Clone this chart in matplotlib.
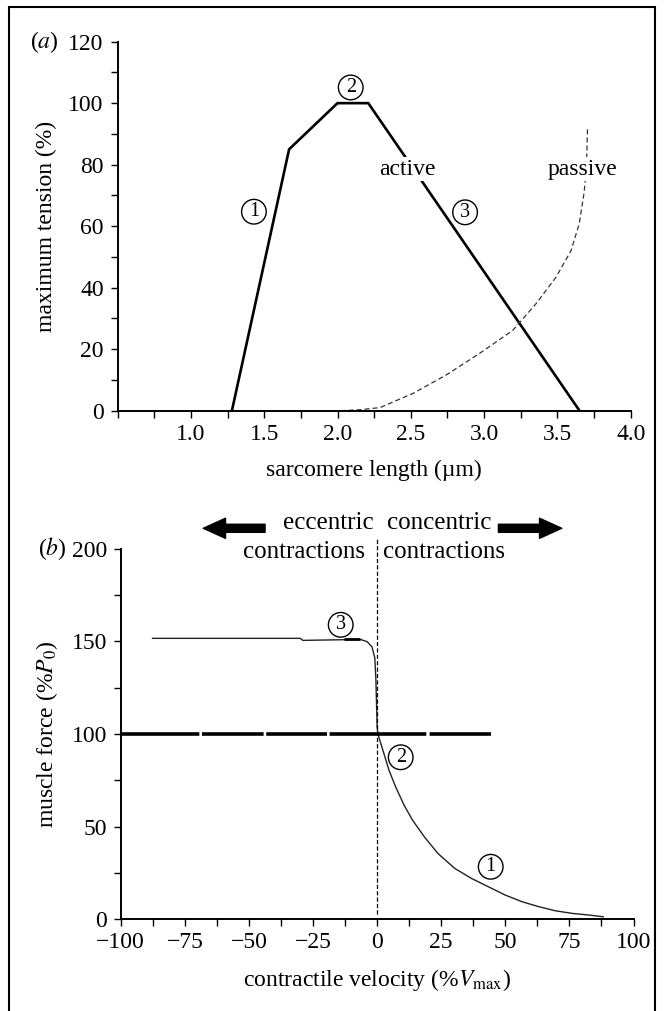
import matplotlib
matplotlib.use("Agg")
import matplotlib.pyplot as plt
from matplotlib.ticker import MultipleLocator
from matplotlib.patches import Rectangle

plt.rcParams["font.family"] = ["Liberation Serif", "DejaVu Serif"]
plt.rcParams["mathtext.fontset"] = "stix"
plt.rcParams["font.size"] = 17
plt.rcParams["lines.scale_dashes"] = False

# ---- data: (a) length-tension ----
active_x = [1.28, 1.67, 2.0, 2.21, 3.65]
active_y = [0, 85, 100, 100, 0]
passive_x = [2.02, 2.15, 2.29, 2.514, 2.741, 2.968, 3.195, 3.354, 3.49,
             3.592, 3.648, 3.683, 3.698, 3.705]
passive_y = [0, 0.3, 1, 5.6, 11.6, 18.6, 26.1, 34.8, 43.4, 52, 60.7, 71.4, 80, 92]
labels_a = ["1", "2", "3"]
labels_a_x = [1.43, 2.09, 2.87]
labels_a_y = [64.7, 105.1, 64.5]

# ---- data: (b) force-velocity ----
fv_x = [-87.6, -30, -29, -6.5, -3.9, -2.0, -0.9, -0.5, -0.2, 0, 0.3, 2.6,
        4.6, 7.2, 10.5, 13.8, 18.4, 23.7, 30.3, 36.8, 43.4, 50, 56.6, 63.2,
        69.7, 76.3, 82.9, 88.2]
fv_y = [151.6, 151.6, 150.5, 151.0, 149.8, 147, 141, 130, 115, 104, 100, 89.6,
        80.5, 71.5, 61.6, 53.5, 44.5, 35.5, 27.4, 22, 17.5, 13, 9.4, 6.7,
        4.5, 3.1, 2.2, 1.3]
plateau_x = [-13, -6.5]
plateau_y = [151.3, 151.3]
iso_x = [-100, 44.6]
iso_y = [100, 100]
zero_x = [0, 0]
zero_y = [3, 206]
labels_b = ["3", "2", "1"]
labels_b_x = [-14.2, 9.2, 44.3]
labels_b_y = [158.9, 87.4, 28.3]


def style_axes(ax):
    for s in ["top", "right"]:
        ax.spines[s].set_visible(False)
    for s in ["left", "bottom"]:
        ax.spines[s].set_linewidth(1.4)
    ax.tick_params(which="both", direction="out", length=5, width=1.0)
    ax.tick_params(axis="x", pad=4.5)
    ax.tick_params(axis="y", pad=5)


def circled(ax, x, y, s):
    ax.text(x, y, s, ha="center", va="center", fontsize=14.5,
            bbox=dict(boxstyle="circle,pad=0.14", fc="white", ec="black", lw=1.0),
            zorder=5)


fig = plt.figure(figsize=(6.64, 10.11), dpi=100)

# ---- panel (a) ----
ax1 = fig.add_axes([0.177, 0.5938, 0.773, 0.365])
ax1.plot(active_x, active_y, color="black", lw=1.9, solid_joinstyle="miter")
ax1.plot(passive_x, passive_y, color="#333333", lw=0.9, dashes=(3.6, 2.2))
ax1.set_xlim(0.5, 4.0)
ax1.set_ylim(0, 120)
ax1.xaxis.set_minor_locator(MultipleLocator(0.25))
ax1.yaxis.set_major_locator(MultipleLocator(20))
ax1.yaxis.set_minor_locator(MultipleLocator(10))
ax1.set_xticks([1.0, 1.5, 2.0, 2.5, 3.0, 3.5, 4.0])
ax1.set_xticklabels(["1.0", "1.5", "2.0", "2.5", "3.0", "3.5", "4.0"])
style_axes(ax1)
ax1.set_xlabel("sarcomere length (µm)", labelpad=11)
ax1.set_ylabel("maximum tension (%)", labelpad=8)
ax1.text(2.475, 78.5, "active", ha="center", va="center",
         bbox=dict(fc="white", ec="none", pad=1), zorder=4)
ax1.text(3.67, 78.5, "passive", ha="center", va="center",
         bbox=dict(fc="white", ec="none", pad=1), zorder=4)
for s, x, y in zip(labels_a, labels_a_x, labels_a_y):
    circled(ax1, x, y, s)

# ---- panel (b) ----
ax2 = fig.add_axes([0.1818, 0.0908, 0.7723, 0.3665])
ax2.plot(fv_x, fv_y, color="#222222", lw=1.0)
ax2.plot(plateau_x, plateau_y, color="black", lw=2.0, solid_capstyle="butt")
ax2.plot(iso_x, iso_y, color="black", lw=2.6, solid_capstyle="butt",
         dashes=(56.4, 1.9, 44.4, 1.9, 43.7, 1.9, 69.6, 2.4, 60, 2))
ax2.plot(zero_x, zero_y, color="black", lw=0.9, dashes=(3, 1.6), clip_on=False)
ax2.set_xlim(-100, 100)
ax2.set_ylim(0, 200)
ax2.xaxis.set_major_locator(MultipleLocator(25))
ax2.xaxis.set_minor_locator(MultipleLocator(12.5))
ax2.yaxis.set_major_locator(MultipleLocator(50))
ax2.yaxis.set_minor_locator(MultipleLocator(25))
style_axes(ax2)
ax2.set_xlabel(r"contractile velocity (%$V_{\mathrm{max}}$)", labelpad=10)
ax2.set_ylabel(r"muscle force (%$P_0$)", labelpad=8)
for s, x, y in zip(labels_b, labels_b_x, labels_b_y):
    circled(ax2, x, y, s)

ax2.text(-1.5, 213.9, "eccentric", ha="right", va="center", fontsize=18)
ax2.text(-4.7, 198.4, "contractions", ha="right", va="center", fontsize=18)
ax2.text(3.7, 213.9, "concentric", ha="left", va="center", fontsize=18)
ax2.text(2.2, 198.4, "contractions", ha="left", va="center", fontsize=18)
arrow = dict(arrowstyle="simple,head_length=1.6,head_width=1.45,tail_width=0.58",
             fc="black", ec="black", shrinkA=0, shrinkB=0, mutation_scale=10)
ax2.annotate("", xy=(-67.8, 211), xytext=(-43.7, 211), arrowprops=arrow,
             annotation_clip=False)
ax2.annotate("", xy=(72, 211), xytext=(47.3, 211), arrowprops=arrow,
             annotation_clip=False)

# panel letters
fig.text(30 / 664, 1 - 41.7 / 1011, r"($\mathit{a}$)", ha="left", va="center")
fig.text(38 / 664, 1 - 548.7 / 1011, r"($\mathit{b}$)", ha="left", va="center")

# frame around the figure
fig.patches.append(Rectangle((9 / 664, -0.01), 646 / 664, 1.01 - 7 / 1011,
                             transform=fig.transFigure, fill=False,
                             ec="black", lw=1.5))

fig.savefig("out.png", dpi=100)
